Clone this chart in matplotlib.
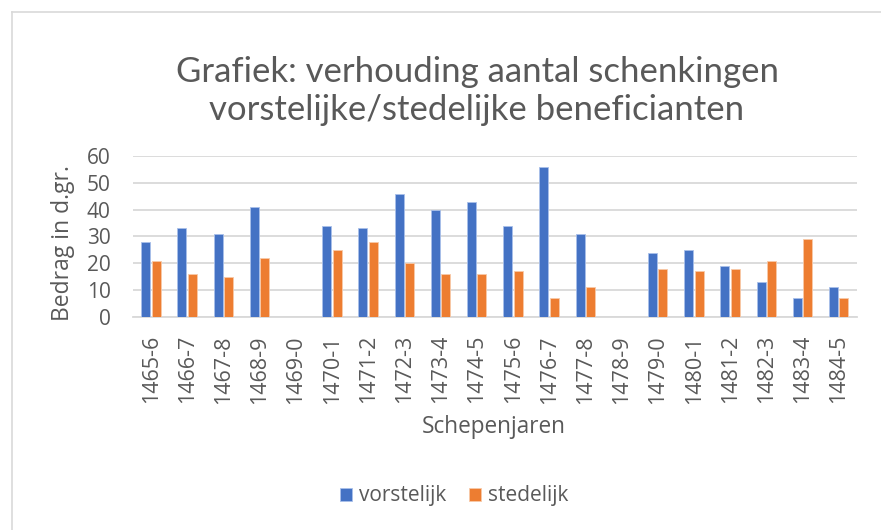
import matplotlib
matplotlib.use("Agg")
import matplotlib.pyplot as plt
import numpy as np
from matplotlib.lines import Line2D

plt.rcParams['font.family'] = ['Open Sans', 'DejaVu Sans']

categories = ["1465-6", "1466-7", "1467-8", "1468-9", "1469-0", "1470-1", "1471-2",
              "1472-3", "1473-4", "1474-5", "1475-6", "1476-7", "1477-8", "1478-9",
              "1479-0", "1480-1", "1481-2", "1482-3", "1483-4", "1484-5"]
vorstelijk = [28, 33, 31, 41, 0, 34, 33, 46, 40, 43, 34, 56, 31, 0, 24, 25, 19, 13, 7, 11]
stedelijk = [21, 16, 15, 22, 0, 25, 28, 20, 16, 16, 17, 7, 11, 0, 18, 17, 18, 21, 29, 7]
yticks = [0, 10, 20, 30, 40, 50, 60]

W, H = 881, 530
fig = plt.figure(figsize=(W / 100, H / 100), dpi=100)

# outer chart border (left and top visible)
fig.add_artist(Line2D([12 / W, 12 / W], [0, 1 - 12 / H], transform=fig.transFigure,
                      color='#D9D9D9', linewidth=1.2))
fig.add_artist(Line2D([12 / W, 1], [1 - 12 / H, 1 - 12 / H], transform=fig.transFigure,
                      color='#D9D9D9', linewidth=1.2))

left, right, top, bottom = 133, 857, 156, 317
ax = fig.add_axes([left / W, 1 - bottom / H, (right - left) / W, (bottom - top) / H])

x = np.arange(len(categories))
bw = 0.25
ax.bar(x - 0.15, vorstelijk, width=bw, color='#4472C4', edgecolor='#A9C0EA', linewidth=0.6,
       label='vorstelijk', zorder=3)
ax.bar(x + 0.14, stedelijk, width=bw, color='#ED7D31', edgecolor='#F8C9A8', linewidth=0.6,
       label='stedelijk', zorder=3)

ax.set_xlim(-0.5, len(categories) - 0.5)
ax.set_ylim(0, 60)
ax.set_yticks(yticks)
ax.set_xticks(x)
ax.set_xticklabels(categories, rotation=90, fontsize=15.5, color='#595959')
ax.tick_params(axis='y', labelsize=15, labelcolor='#595959', length=0, pad=16)
ax.tick_params(axis='x', length=0, pad=13)
ax.grid(axis='y', color='#D9D9D9', linewidth=1.3, zorder=0)
for s in ['top', 'right', 'left']:
    ax.spines[s].set_visible(False)
ax.spines['bottom'].set_color('#D9D9D9')
ax.spines['bottom'].set_linewidth(1.3)

ax.set_ylabel('Bedrag in d.gr.', fontsize=16.5, color='#595959', va='center')
ax.yaxis.set_label_coords((63 - left) / (right - left), (bottom - 243) / (bottom - top))
ax.set_xlabel('Schepenjaren', fontsize=16.3, color='#595959', va='center')
ax.xaxis.set_label_coords((494 - left) / (right - left), (bottom - 427) / (bottom - top))

fig.text(477 / W, 1 - 91 / H, 'Grafiek: verhouding aantal schenkingen\nvorstelijke/stedelijke beneficianten',
         ha='center', va='center', fontsize=25, color='#595959', linespacing=1.2,
         family=['Lato', 'DejaVu Sans'])

fig.legend(loc='center', bbox_to_anchor=(454 / W, 1 - 496 / H), ncol=2, frameon=False,
           fontsize=15, handlelength=0.6, handleheight=0.6, columnspacing=1.1, handletextpad=0.3,
           labelcolor='#595959')

fig.savefig('out.png', dpi=100)
